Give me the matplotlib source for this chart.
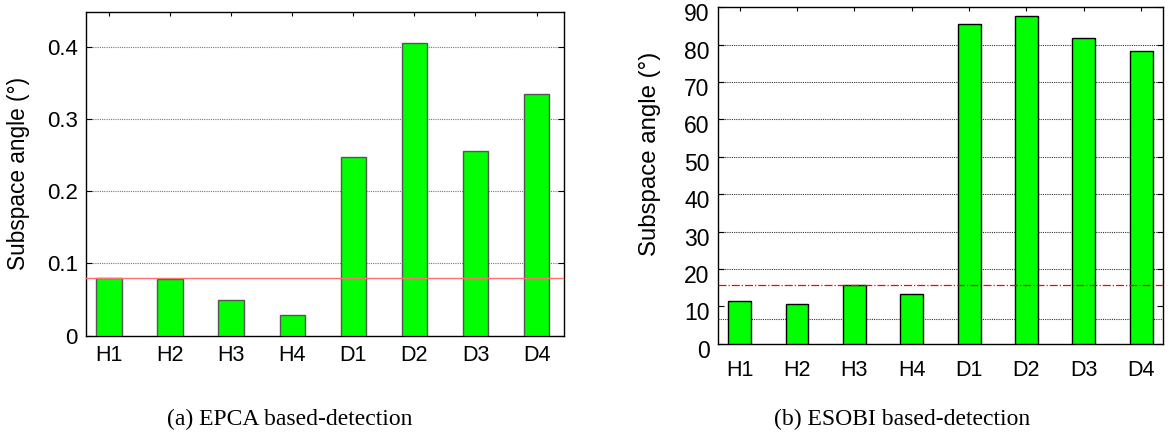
import matplotlib
matplotlib.use("Agg")
import matplotlib.pyplot as plt
import matplotlib.transforms as mtransforms

# Data
labels = ["H1", "H2", "H3", "H4", "D1", "D2", "D3", "D4"]
epca_angle = [0.080, 0.078, 0.050, 0.028, 0.248, 0.405, 0.256, 0.335]
epca_threshold = 0.080
esobi_angle = [11.4, 10.6, 15.8, 13.4, 85.6, 87.6, 81.8, 78.4]
esobi_threshold = 15.7
epca_yticks = [0, 0.1, 0.2, 0.3, 0.4]
epca_yticklabels = ["0", "0.1", "0.2", "0.3", "0.4"]
esobi_yticks = [0, 10, 20, 30, 40, 50, 60, 70, 80, 90]
esobi_grid = [6.7, 20, 30, 40, 50, 60, 70, 80]   # the 10-line sits low in the original

GREEN = "#00ff00"
SANS = "Liberation Sans"
SERIF = "Liberation Serif"

fig = plt.figure(figsize=(11.69, 4.33), dpi=100)
W, H = 1169, 433

def px_axes(l, t, r, b):
    return fig.add_axes([l / W, (H - b) / H, (r - l) / W, (b - t) / H])

def style_ticks(ax):
    ax.tick_params(axis="y", which="both", direction="in", length=4, right=True)
    ax.tick_params(axis="x", which="both", direction="in", length=3, top=True, bottom=True)
    for t in ax.xaxis.get_major_ticks():
        t.tick1line.set_visible(False)   # no bottom ticks, only top ones
    for s in ax.spines.values():
        s.set_linewidth(1.0)

x = list(range(1, len(labels) + 1))

# ====== (a) EPCA ======
ax1 = px_axes(86, 12, 564, 335.7)
ax1.bar(x, epca_angle, width=0.42, color=GREEN, edgecolor="#555555", linewidth=1.0, zorder=3)
for yv in epca_yticks[1:]:
    ax1.axhline(yv, color="#777777", linestyle=(0, (1, 1)), linewidth=0.8, zorder=1)
ax1.axhline(epca_threshold, color="#ff7070", linewidth=1.0, zorder=4)
ax1.set_xlim(0.62, 8.45)
ax1.set_ylim(0, 0.448)
ax1.set_yticks(epca_yticks)
ax1.set_yticklabels(epca_yticklabels, fontsize=16, family=SANS)
ax1.set_xticks(x)
ax1.set_xticklabels(labels, fontsize=15.5, family=SANS)
style_ticks(ax1)
ax1.tick_params(axis="y", pad=6)
ax1.tick_params(axis="x", pad=7)
ax1.set_ylabel("Subspace angle (°)", fontsize=16.3, family=SANS)
ax1.yaxis.set_label_coords(-0.118, 0.5)

# ====== (b) ESOBI ======
ax2 = px_axes(718, 7.3, 1163, 343.7)
ax2.bar(x, esobi_angle, width=0.40, color=GREEN, edgecolor="black", linewidth=1.0, zorder=3)
for yv in esobi_grid:
    ax2.axhline(yv, color="#333333", linestyle=(0, (1, 1)), linewidth=0.8, zorder=1)
ax2.axhline(esobi_threshold, color="red", linestyle="-.", linewidth=0.9, zorder=4)
ax2.set_xlim(0.623, 8.38)
ax2.set_ylim(0, 90)
ax2.set_yticks(esobi_yticks)
ax2.set_yticklabels([str(v) for v in esobi_yticks], fontsize=16.5, family=SANS)
ax2.set_xticks(x)
ax2.set_xticklabels(labels, fontsize=15.5, family=SANS)
style_ticks(ax2)
ax2.tick_params(axis="y", pad=6)
ax2.tick_params(axis="x", pad=12)
ax2.set_ylabel("Subspace angle (°)", fontsize=17.3, family=SANS)
ax2.yaxis.set_label_coords(-0.128, 0.564)
shift = mtransforms.ScaledTranslation(0, -5 / 100, fig.dpi_scale_trans)
for lab in ax2.get_yticklabels():
    lab.set_transform(lab.get_transform() + shift)

# captions
fig.text(290 / W, 1 - 419 / H, "(a) EPCA based-detection", ha="center", va="center",
         fontsize=17, family=SERIF)
fig.text(902 / W, 1 - 419 / H, "(b) ESOBI based-detection", ha="center", va="center",
         fontsize=17, family=SERIF)

fig.savefig("out.png", dpi=100)
